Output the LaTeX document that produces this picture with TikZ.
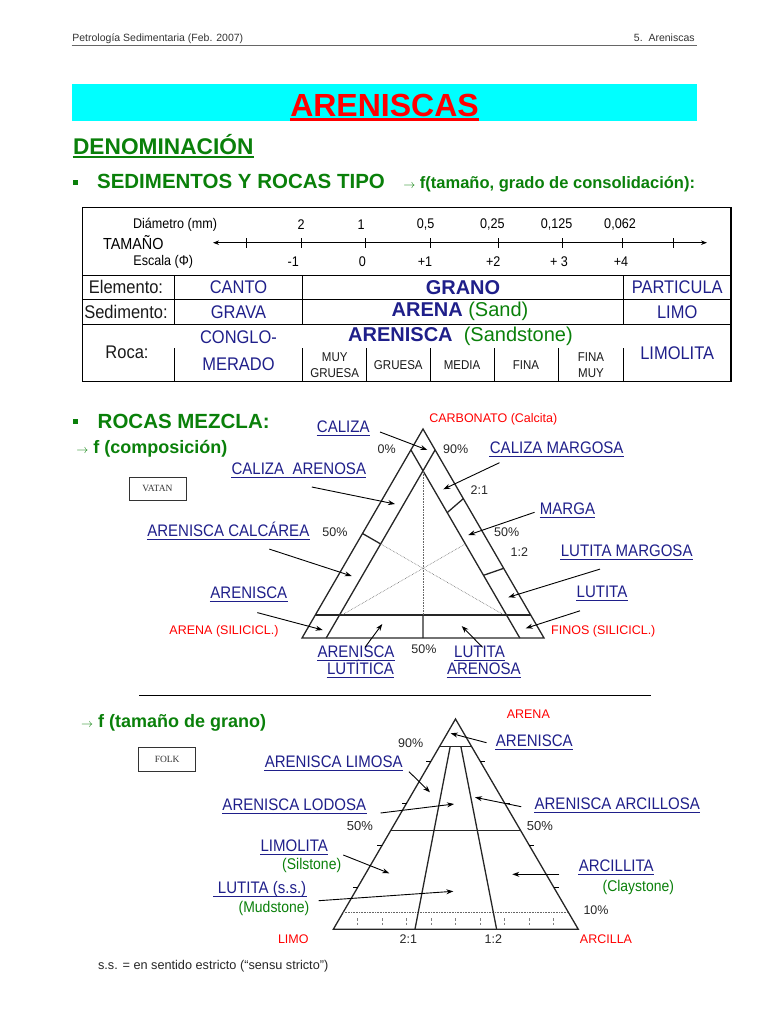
\documentclass[tikz,border=0pt]{standalone}
\usepackage{fontspec}
\setmainfont{Liberation Sans}
\newfontfamily\narrowsans{Liberation Sans}[FakeStretch=0.9]
\newfontfamily\boxfont{Liberation Serif}
\usetikzlibrary{arrows.meta, calc}
\definecolor{navyc}{HTML}{1F1F8A}
\definecolor{greenc}{HTML}{0A800A}
\definecolor{redc}{HTML}{FF0000}
\definecolor{cyanc}{HTML}{00FFFF}
\newcommand{\pxfont}[1]{\fontsize{#1}{#1}\selectfont}

\begin{document}
\begin{tikzpicture}[x=1pt, y=-1pt, line width=0.8pt,
    ul/.style 2 args={append after command={(\tikzlastnode.south west)
        edge[draw=#1, line width=#2] (\tikzlastnode.south east)}},
    lab/.style={navyc, font=\narrowsans\pxfont{16.7}, inner xsep=0pt,
        inner ysep=2.7pt, text height=12pt, text depth=0pt, ul={navyc}{1.1pt}},
    rlab/.style={redc, font=\pxfont{12.5}},
    glab/.style={greenc, font=\narrowsans\pxfont{15.5}},
    pct/.style={black!85, font=\pxfont{12.5}},
    head/.style={anchor=base west, greenc, inner sep=0pt},
    cell/.style={navyc, font=\narrowsans\pxfont{18.3}},
    cellb/.style={navyc, font=\bfseries\pxfont{20}},
    rowlab/.style={black!90, font=\narrowsans\pxfont{18.3}},
    sub/.style={black!90, font=\narrowsans\pxfont{12.8}, align=center},
    boxlab/.style={draw, line width=0.8pt, black!80, minimum width=57pt,
        minimum height=22.5pt, font=\boxfont\pxfont{9.5}},
    tri/.style={line width=1.3pt, black!85},
    dots/.style={densely dotted, line width=0.6pt, black!60},
    arr/.style={-{Stealth[length=7pt, width=5pt]}, line width=0.9pt}]
  \useasboundingbox (0,0) rectangle (768,1024);

  % page head
  \node[anchor=base west, font=\pxfont{10.5}, black!80, inner sep=0pt] (hdl)
    at (72,41.5) {Petrología Sedimentaria (Feb. 2007)};
  \node[anchor=base east, font=\pxfont{10.5}, black!80, inner sep=0pt] (hdr)
    at (695,41.5) {5.\ \ Areniscas};
  \draw[black!60, line width=1.2pt] (71.7,45.5) -- (697,45.5);

  % title
  \fill[cyanc] (71.7,84.3) rectangle (697,120.7);
  \node[redc, font=\bfseries\pxfont{32}, inner xsep=0pt, inner ysep=2.8pt,
        text height=23pt, text depth=0pt, ul={redc}{2.8pt}] (title)
    at (384.5,104.7) {ARENISCAS};
  \node[head, font=\bfseries\pxfont{22.7}, inner ysep=2.4pt, text depth=0pt,
        ul={greenc}{1.8pt}] (denom) at (72.7,154.3) {DENOMINACIÓN};
  \fill[greenc] (73,180.5) rectangle (78,185.5);
  \node[head, font=\bfseries\pxfont{20.5}] (sedim) at (96.7,189)
    {SEDIMENTOS Y ROCAS TIPO};
  \node[head, font=\bfseries\pxfont{16.5}] (sedimf) at (403,189)
    {{\pxfont{12}$\rightarrow$} f(tamaño, grado de consolidación):};

  % size table
  \draw[line width=1.2pt] (82.3,207.3) rectangle (731,381.7);
  \foreach \y in {275,299.3,324} \draw (82.3,\y) -- (731,\y);
  \foreach \x in {174.3,302.7,623.3} \draw (\x,275) -- (\x,324);
  \foreach \x in {174.3,302.7,366.7,430,494.3,558.3,623.3}
    \draw (\x,348.3) -- (\x,381.7);
  \draw[{Stealth[length=6pt, width=4.5pt]}-{Stealth[length=6pt, width=4.5pt]},
        line width=0.9pt] (213,242.7) -- (707,242.7);
  \foreach \x in {246,301.7,365,430,498.3,562.3,622.3,673.3}
    \draw[line width=0.9pt] (\x,238) -- (\x,247.5);
  \node[font=\narrowsans\pxfont{14}] (diam) at (175,225) {Diámetro (mm)};
  \node[font=\narrowsans\pxfont{16}] (tam) at (133.3,242.7) {TAMAÑO};
  \node[font=\narrowsans\pxfont{14}] (esc) at (163.3,261.7) {Escala (Φ)};
  \foreach \x/\t [count=\i] in {301/2, 361/1, 425.7/{0,5}, 492.3/{0,25},
      556.7/{0,125}, 620/{0,062}}
    \node[font=\narrowsans\pxfont{14}] (mm\i) at (\x,225) {\t};
  \foreach \x/\t [count=\i] in {293.3/-1, 362.3/0, 425/+1, 493.3/+2,
      559/+ 3, 621/+4}
    \node[font=\narrowsans\pxfont{14}] (phi\i) at (\x,261.7) {\t};
  \node[rowlab] (elem) at (126,287.2) {Elemento:};
  \node[rowlab] (sedi) at (126,311.7) {Sedimento:};
  \node[rowlab] (roca) at (127,352) {Roca:};
  \node[cell] (canto) at (238.5,287.2) {CANTO};
  \node[cellb] (grano) at (463,287.2) {GRANO};
  \node[cell] (partic) at (677.2,287.2) {PARTICULA};
  \node[cell] (grava) at (238.5,311.7) {GRAVA};
  \node[cellb] (arena) at (460,311.7)
    {ARENA {\mdseries\color{greenc}(Sand)}};
  \node[cell] (limo) at (677.2,311.7) {LIMO};
  \node[cell, align=center, font=\narrowsans\fontsize{18.3}{27.3}\selectfont]
    (congl) at (238.5,350.4) {CONGLO-\\MERADO};
  \node[cellb] (arenisca) at (460.5,336.7)
    {ARENISCA\ \ {\mdseries\color{greenc}(Sandstone)}};
  \node[cell] (limolita) at (677.2,353.3) {LIMOLITA};
  \node[sub, font=\narrowsans\fontsize{12.8}{16.6}\selectfont] (muyg)
    at (334.7,365) {MUY\\GRUESA};
  \node[sub] (gruesa) at (398.3,365) {GRUESA};
  \node[sub] (media) at (462,365) {MEDIA};
  \node[sub] (fina) at (526,365) {FINA};
  \node[sub, font=\narrowsans\fontsize{12.8}{16.6}\selectfont] (finam)
    at (591,365) {FINA\\MUY};

  % mixed rocks (Vatan)
  \fill[greenc] (73,418.5) rectangle (78,423.5);
  \node[head, font=\bfseries\pxfont{20.5}] (mezcla) at (97.3,428)
    {ROCAS MEZCLA:};
  \node[head, font=\bfseries\pxfont{18}] (compos) at (76,453.5)
    {{\pxfont{13}$\rightarrow$}\ f (composición)};
  \node[boxlab] (vatan) at (157.4,488.9) {VATAN};
  \coordinate (carb) at (423,429);
  \coordinate (aren) at (302,638);
  \coordinate (fin) at (544,638);
  \draw[tri] (carb) -- (aren) -- (fin) -- cycle;
  \draw[tri] (barycentric cs:aren=0.9,fin=0.1) -- (barycentric cs:carb=0.9,fin=0.1);
  \draw[tri] (barycentric cs:fin=0.9,aren=0.1) -- (barycentric cs:carb=0.9,aren=0.1);
  \draw[tri] (barycentric cs:carb=0.11,aren=0.89) -- (barycentric cs:carb=0.11,fin=0.89);
  \draw[tri] (barycentric cs:aren=0.5,fin=0.5)
    -- (barycentric cs:carb=0.11,aren=0.445,fin=0.445);
  \draw[tri] (barycentric cs:carb=0.5,aren=0.5)
    -- (barycentric cs:carb=0.45,aren=0.45,fin=0.1);
  \draw[tri] (barycentric cs:carb=2,fin=1)
    -- (barycentric cs:carb=0.6,fin=0.3,aren=0.1);
  \draw[tri] (barycentric cs:carb=1,fin=2)
    -- (barycentric cs:carb=0.3,fin=0.6,aren=0.1);
  \draw[dots] (barycentric cs:carb=0.11,aren=0.445,fin=0.445)
    -- (barycentric cs:carb=0.8,aren=0.1,fin=0.1);
  \draw[dots] (barycentric cs:carb=0.45,aren=0.45,fin=0.1)
    -- (barycentric cs:carb=0.11,aren=0.11,fin=0.78);
  \draw[dots] (barycentric cs:carb=0.45,fin=0.45,aren=0.1)
    -- (barycentric cs:carb=0.11,fin=0.11,aren=0.78);
  \node[rlab] (carbl) at (493.3,419.3) {CARBONATO (Calcita)};
  \node[rlab] (finl) at (603.3,631.7) {FINOS (SILICICL.)};
  \node[rlab] (arenl) at (224,631.7) {ARENA (SILICICL.)};
  \node[pct] (v0) at (386.7,449.3) {0\%};
  \node[pct] (v90) at (455.7,449.3) {90\%};
  \node[pct] (v21) at (479.3,490) {2:1};
  \node[pct] (v50l) at (335,531.7) {50\%};
  \node[pct] (v50r) at (506.7,531.7) {50\%};
  \node[pct] (v12) at (519.3,551.7) {1:2};
  \node[pct] (v50b) at (424,649.3) {50\%};
  \node[lab] (caliza) at (343.3,426) {CALIZA};
  \node[lab] (calmarg) at (556.7,447.3) {CALIZA MARGOSA};
  \node[lab] (calaren) at (298.8,468.3) {CALIZA\ \ ARENOSA};
  \node[lab] (marga) at (567.5,508.3) {MARGA};
  \node[lab] (arencalc) at (228.3,530) {ARENISCA CALCÁREA};
  \node[lab] (lutmarg) at (626.7,550) {LUTITA MARGOSA};
  \node[lab] (arenv) at (248.8,592) {ARENISCA};
  \node[lab] (lutv) at (602,591.7) {LUTITA};
  \node[lab] (arenlut) at (356,651.7) {ARENISCA};
  \node[lab] (arenlut2) at (360.5,668.3) {LUTÍTICA};
  \node[lab] (lutaren) at (479.5,651.7) {LUTITA};
  \node[lab] (lutaren2) at (483.8,668.3) {ARENOSA};
  \coordinate (tCaliza) at (427.3,450);
  \coordinate (tCalMarg) at (443.3,489.3);
  \coordinate (tCalAren) at (395,504);
  \coordinate (tMarga) at (468.3,535);
  \coordinate (tArenCalc) at (351.7,576);
  \coordinate (tLutMarg) at (508.3,597.3);
  \coordinate (tArenV) at (322.7,630);
  \coordinate (tLutV) at (525.7,628.3);
  \coordinate (tArenLut) at (382.3,624);
  \coordinate (tLutAren) at (461.7,626);
  \draw[arr] ($(caliza.east)+(10,6)$) -- (tCaliza);
  \draw[arr] ($(calmarg.south west)+(10,6.3)$) -- (tCalMarg);
  \draw[arr] ($(calaren.south)+(13,9.6)$) -- (tCalAren);
  \draw[arr] ($(marga.west)+(-5,4)$) -- (tMarga);
  \draw[arr] ($(arencalc.south)+(41,10)$) -- (tArenCalc);
  \draw[arr] ($(lutmarg.south)+(-26.7,10)$) -- (tLutMarg);
  \draw[arr] ($(arenv.south)+(8.5,11.5)$) -- (tArenV);
  \draw[arr] ($(lutv.south)+(-22,10)$) -- (tLutV);
  \draw[arr] ($(arenlut.north)+(9,4.7)$) -- (tArenLut);
  \draw[arr] ($(lutaren.north)+(3,4.7)$) -- (tLutAren);

  \draw[line width=0.9pt] (139.3,695.7) -- (651,695.7);

  % grain size (Folk)
  \node[head, font=\bfseries\pxfont{18}] (tgrano) at (80.7,727)
    {{\pxfont{13}$\rightarrow$}\ f (tamaño de grano)};
  \node[boxlab, minimum height=23.3pt] (folk) at (167.2,759.3) {FOLK};
  \coordinate (farena) at (455.5,719);
  \coordinate (flimo) at (333.3,929.3);
  \coordinate (farcilla) at (578.3,929.3);
  \draw[tri] (farena) -- (flimo) -- (farcilla) -- cycle;
  \draw[tri] (barycentric cs:farena=0.87,flimo=0.13)
    -- (barycentric cs:farena=0.87,farcilla=0.13);
  \draw[tri] (barycentric cs:farena=0.47,flimo=0.53)
    -- (barycentric cs:farena=0.47,farcilla=0.53);
  \draw[dots] (barycentric cs:farena=0.08,flimo=0.92)
    -- (barycentric cs:farena=0.08,farcilla=0.92);
  \draw[tri] (barycentric cs:farena=0.87,flimo=0.0867,farcilla=0.0433)
    -- (barycentric cs:flimo=2,farcilla=1);
  \draw[tri] (barycentric cs:farena=0.87,flimo=0.0433,farcilla=0.0867)
    -- (barycentric cs:flimo=1,farcilla=2);
  \foreach \s/\r in {0.8/0.2, 0.6/0.4, 0.4/0.6, 0.2/0.8} {
    \draw[line width=0.7pt] (barycentric cs:farena=\s,flimo=\r) -- ++(-5,0);
    \draw[line width=0.7pt] (barycentric cs:farena=\s,farcilla=\r) -- ++(5,0);
  }
  \foreach \k in {1,...,9}
    \draw[dash pattern=on 2.5pt off 2pt, line width=0.7pt, black!50]
      (333.3+\k*24.5,918) -- ++(0,8);
  \node[rlab] (fare) at (528.3,714) {ARENA};
  \node[rlab] (flim) at (293.3,939) {LIMO};
  \node[rlab] (farc) at (606,939) {ARCILLA};
  \node[pct] (f90) at (410.7,742.7) {90\%};
  \node[pct, font=\pxfont{13}] (f50l) at (360,826) {50\%};
  \node[pct, font=\pxfont{13}] (f50r) at (540,826) {50\%};
  \node[pct] (f10) at (596,910) {10\%};
  \node[pct] (f21) at (408.3,939) {2:1};
  \node[pct] (f12) at (493.3,939) {1:2};
  \node[lab] (farenisca) at (534.3,740.7) {ARENISCA};
  \node[lab] (limosa) at (333.7,761.7) {ARENISCA LIMOSA};
  \node[lab] (lodosa) at (294.3,804) {ARENISCA LODOSA};
  \node[lab] (arcillosa) at (617.3,803.3) {ARENISCA ARCILLOSA};
  \node[lab] (flimolita) at (294.2,845.7) {LIMOLITA};
  \node[glab] (silst) at (311.7,865.7) {(Silstone)};
  \node[lab] (lutss) at (260,887.7) {\ LUTITA (s.s.)};
  \node[glab] (mudst) at (274,908.3) {(Mudstone)};
  \node[lab] (arcillita) at (616.2,865.7) {ARCILLITA};
  \node[glab] (clayst) at (638.3,887.3) {(Claystone)};
  \coordinate (tFAren) at (450.7,733.3);
  \coordinate (tLimosa) at (430,792.3);
  \coordinate (tLodosa) at (454,804);
  \coordinate (tArcillosa) at (475,797.3);
  \coordinate (tLimolita) at (389.3,873.3);
  \coordinate (tLutss) at (453.3,891.3);
  \coordinate (tArcillita) at (512.3,874.3);
  \draw[arr] ($(farenisca.west)+(-9,2)$) -- (tFAren);
  \draw[arr] ($(limosa.east)+(6,10)$) -- (tLimosa);
  \draw[arr] ($(lodosa.east)+(14,9)$) -- (tLodosa);
  \draw[arr] ($(arcillosa.west)+(-13,3.4)$) -- (tArcillosa);
  \draw[arr] ($(flimolita.east)+(15,9.3)$) -- (tLimolita);
  \draw[arr] ($(lutss.east)+(12,13)$) -- (tLutss);
  \draw[arr] ($(arcillita.west)+(-19,8.6)$) -- (tArcillita);
  \node[anchor=west, font=\pxfont{12.7}, black!85, inner sep=0pt] (nota)
    at (97.7,966) {s.s. = en sentido estricto (“sensu stricto”)};
\end{tikzpicture}
\end{document}
